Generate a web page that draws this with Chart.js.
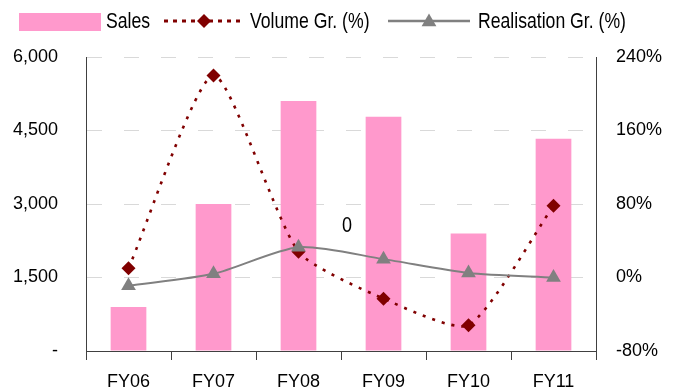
<!DOCTYPE html>
<html><head><meta charset="utf-8">
<script src="https://cdn.jsdelivr.net/npm/chart.js@4"></script>
<style>html,body{margin:0;padding:0;background:#fff}canvas{display:block}</style>
</head><body>
<canvas id="c" width="677" height="392"></canvas>
<script>
const categories = ['FY06','FY07','FY08','FY09','FY10','FY11'];
const sales = [900, 3000, 5100, 4780, 2400, 4330];
const volumeGrowth = [10, 220, 28, -23, -52, 78];
const realisationGrowth = [-9, 4, 33, 20, 5, 0];
const leftTickValues = [0, 1500, 3000, 4500, 6000];
const rightTickValues = [-80, 0, 80, 160, 240];
const seriesNames = ['Sales', 'Volume Gr. (%)', 'Realisation Gr. (%)'];
const annotationText = '0';
const annotationAt = {index: 2.57, value: 50};

const FONT = "'Liberation Sans',Arial,sans-serif";
const PINK = '#FF99CC', MAROON = '#800000', GREY = '#808080', AXIS = '#404040';
const NARROW = 0.82;

function drawMarker(ctx, style, x, y, r, color) {
  ctx.fillStyle = color;
  ctx.beginPath();
  if (style === 'rectRot') {
    ctx.moveTo(x, y - r); ctx.lineTo(x + r, y); ctx.lineTo(x, y + r); ctx.lineTo(x - r, y);
  } else {
    ctx.moveTo(x, y - r); ctx.lineTo(x + r * 0.87, y + r * 0.5); ctx.lineTo(x - r * 0.87, y + r * 0.5);
  }
  ctx.closePath(); ctx.fill();
}

function condensedText(ctx, text, x, y, align) {
  ctx.save();
  ctx.translate(x, y);
  ctx.scale(NARROW, 1);
  ctx.textAlign = align || 'left';
  ctx.fillText(text, 0, 0);
  ctx.restore();
}

const legendPlugin = {
  id: 'customLegend',
  afterDraw(chart) {
    const ctx = chart.ctx;
    ctx.save();
    ctx.font = '21.5px ' + FONT;
    ctx.textBaseline = 'alphabetic';
    const ly = 21, base = 27.5;
    ctx.fillStyle = PINK; ctx.fillRect(19, 13, 82, 18);
    ctx.fillStyle = '#000'; condensedText(ctx, seriesNames[0], 106, base);
    ctx.strokeStyle = MAROON; ctx.lineWidth = 3; ctx.setLineDash([4, 5]);
    ctx.beginPath(); ctx.moveTo(164, ly); ctx.lineTo(241, ly); ctx.stroke();
    ctx.setLineDash([]);
    drawMarker(ctx, 'rectRot', 204, ly, 7, MAROON);
    ctx.fillStyle = '#000'; condensedText(ctx, seriesNames[1], 250, base);
    ctx.strokeStyle = GREY; ctx.lineWidth = 2.5;
    ctx.beginPath(); ctx.moveTo(388, ly); ctx.lineTo(470, ly); ctx.stroke();
    drawMarker(ctx, 'triangle', 429, ly + 1, 8.5, GREY);
    ctx.fillStyle = '#000'; condensedText(ctx, seriesNames[2], 478, base);
    // data label annotation
    const xs = chart.scales.x, ys = chart.scales.y1;
    const step = xs.getPixelForValue(1) - xs.getPixelForValue(0);
    const ax = xs.getPixelForValue(Math.floor(annotationAt.index)) + (annotationAt.index % 1) * step;
    ctx.font = '22px ' + FONT;
    condensedText(ctx, annotationText, ax, ys.getPixelForValue(annotationAt.value), 'center');
    ctx.restore();
  }
};

new Chart(document.getElementById('c'), {
  type: 'bar',
  data: {
    labels: categories,
    datasets: [
      {
        type: 'line', label: seriesNames[1], data: volumeGrowth, yAxisID: 'y1',
        borderColor: MAROON, backgroundColor: MAROON, borderWidth: 2.6, borderDash: [3, 7],
        tension: 0.2, pointStyle: 'rectRot', pointRadius: 7, pointHoverRadius: 7,
        pointBorderWidth: 0, order: 1
      },
      {
        type: 'line', label: seriesNames[2], data: realisationGrowth, yAxisID: 'y1',
        borderColor: GREY, backgroundColor: GREY, borderWidth: 2,
        tension: 0.25, pointStyle: 'triangle', pointRadius: 8.5, pointHoverRadius: 8.5,
        pointBorderWidth: 0, order: 0
      },
      {
        type: 'bar', label: seriesNames[0], data: sales, yAxisID: 'y',
        backgroundColor: PINK, categoryPercentage: 1, barPercentage: 0.42, order: 2
      }
    ]
  },
  options: {
    responsive: false,
    animation: false,
    layout: {padding: {left: 0, right: 0, top: 57, bottom: 0}},
    plugins: {legend: {display: false}, tooltip: {enabled: false}},
    scales: {
      x: {
        grid: {offset: true, drawOnChartArea: false, tickLength: 9, color: AXIS},
        border: {display: true, color: AXIS, width: 1},
        ticks: {font: {family: FONT, size: 18}, color: '#000', padding: 11, maxRotation: 0},
        afterFit(s) { s.height = 41; }
      },
      y: {
        position: 'left', min: 0, max: 6000,
        afterBuildTicks(s) { s.ticks = leftTickValues.map(v => ({value: v})); },
        grid: {drawTicks: false, color: c => (c.tick && c.tick.value === 0) ? 'rgba(0,0,0,0)' : '#d9d9d9'},
        border: {display: true, color: AXIS, width: 1, dash: [15, 22]},
        ticks: {font: {family: FONT, size: 18}, color: '#000', padding: 28,
          callback: v => v === 0 ? '-' : v.toLocaleString('en-US')},
        afterFit(s) { s.width = 86; }
      },
      y1: {
        position: 'right', min: -80, max: 240,
        afterBuildTicks(s) { s.ticks = rightTickValues.map(v => ({value: v})); },
        grid: {drawOnChartArea: false, drawTicks: false},
        border: {display: true, color: AXIS, width: 1},
        ticks: {font: {family: FONT, size: 18}, color: '#000', padding: 20,
          callback: v => v + '%'},
        afterFit(s) { s.width = 81; }
      }
    }
  },
  plugins: [legendPlugin]
});
</script>
</body></html>
